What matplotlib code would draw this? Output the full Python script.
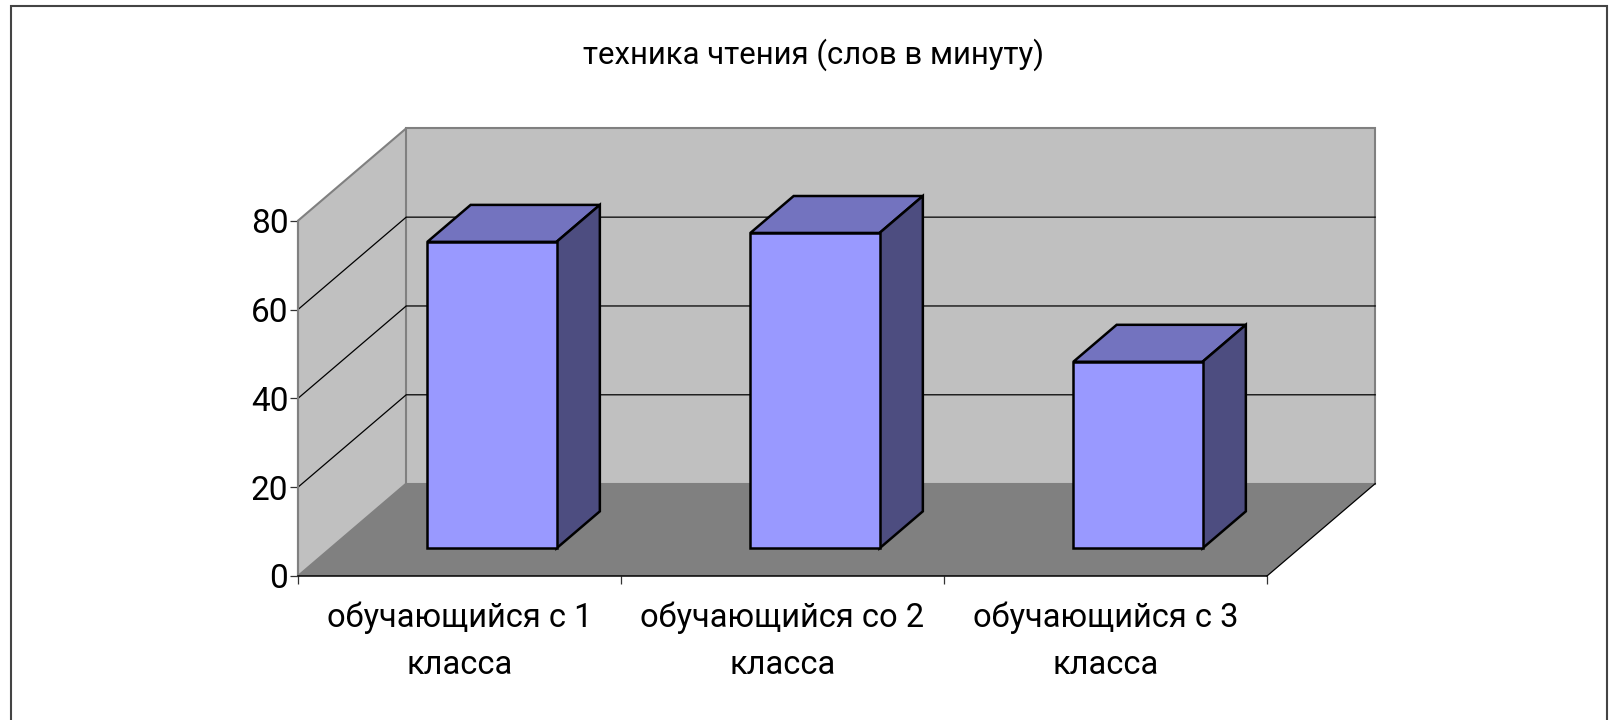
import matplotlib
matplotlib.use('Agg')
import matplotlib.pyplot as plt
from matplotlib.patches import Polygon, Rectangle

plt.rcParams['font.family'] = ['Roboto', 'DejaVu Sans']

titre = 'техника чтения (слов в минуту)'
categories = ['обучающийся с 1\nкласса', 'обучающийся со 2\nкласса', 'обучающийся с 3\nкласса']
valeurs = [69, 71, 42]
graduations = [0, 20, 40, 60, 80]

# fake 3d: one unit of depth moves a point this far in data units
depth_x = 0.335
depth_y = 20.8
largeur = 0.4
d_avant = 0.3
d_arriere = 0.7

fig = plt.figure(figsize=(16.1, 7.2), dpi=100)
ax = fig.add_axes([298/1610, (720-576)/720, 969/1610, (576-220.7)/720])
ax.set_xlim(-0.5, 2.5)
ax.set_ylim(0, 80)
ax.patch.set_visible(False)


def proj(x, y, d):
    return (x + d*depth_x, y + d*depth_y)


def poly(points, couleur, bord='none', lw=0, z=1):
    ax.add_patch(Polygon(points, closed=True, facecolor=couleur, edgecolor=bord,
                         linewidth=lw, zorder=z, clip_on=False, joinstyle='miter'))


xmin, xmax = ax.get_xlim()
ymax = graduations[-1]

# left wall, back wall, floor
poly([proj(xmin, 0, 0), proj(xmin, ymax, 0), proj(xmin, ymax, 1), proj(xmin, 0, 1)], '#c0c0c0', '#808080', 1.5)
poly([proj(xmin, 0, 1), proj(xmin, ymax, 1), proj(xmax, ymax, 1), proj(xmax, 0, 1)], '#c0c0c0', '#808080', 1.5)
poly([proj(xmin, 0, 0), proj(xmax, 0, 0), proj(xmax, 0, 1), proj(xmin, 0, 1)], '#808080', z=2)

# grid lines
for g in graduations[1:-1]:
    a, b, c = proj(xmin, g, 0), proj(xmin, g, 1), proj(xmax, g, 1)
    ax.plot([a[0], b[0], c[0]], [a[1], b[1], c[1]], color='black', lw=0.9, zorder=1.5, clip_on=False)

# right edge of the floor
a, b = proj(xmax, 0, 0), proj(xmax, 0, 1)
ax.plot([a[0], b[0]], [a[1], b[1]], color='black', lw=0.9, zorder=3, clip_on=False)

# the bars
for i, v in enumerate(valeurs):
    g = i - largeur/2
    d = i + largeur/2
    poly([proj(g, 0, d_avant), proj(d, 0, d_avant), proj(d, v, d_avant), proj(g, v, d_avant)],
         '#9999ff', 'black', 1.8, 6)
    poly([proj(g, v, d_avant), proj(d, v, d_avant), proj(d, v, d_arriere), proj(g, v, d_arriere)],
         '#7373bf', 'black', 1.8, 5)
    poly([proj(d, 0, d_avant), proj(d, 0, d_arriere), proj(d, v, d_arriere), proj(d, v, d_avant)],
         '#4d4d80', 'black', 1.8, 5)

# axes
for s in ['top', 'right']:
    ax.spines[s].set_visible(False)
ax.spines['left'].set_color('#808080')
ax.spines['left'].set_linewidth(1.5)
ax.spines['left'].set_zorder(4)
ax.spines['bottom'].set_color('black')
ax.spines['bottom'].set_linewidth(1.1)
ax.spines['bottom'].set_zorder(4)

ax.set_yticks(graduations)
ax.tick_params(axis='y', length=6, width=0.9, color='#333333', pad=1, labelsize=24)
ax.set_xticks([-0.5, 0.5, 1.5, 2.5])
ax.set_xticklabels([])
ax.tick_params(axis='x', which='major', length=6, width=0.9, color='#333333')
ax.set_xticks(range(len(categories)), labels=categories, minor=True)
ax.tick_params(axis='x', which='minor', length=0, pad=18, labelsize=23.5)
for t in ax.get_xticklabels(minor=True):
    t.set_linespacing(1.6)
    t.set_x(t.get_position()[0])

fig.text(813.7/1610, 1 - 55/720, titre, fontsize=22.4, ha='center', va='center')

# picture frame
fig.add_artist(Rectangle((10.5/1610, -0.01), (1607-10.5)/1610, 1.01 - 5.5/720, transform=fig.transFigure,
                         facecolor='none', edgecolor='#444444', linewidth=1.5))

plt.savefig('out.png', dpi=100)
